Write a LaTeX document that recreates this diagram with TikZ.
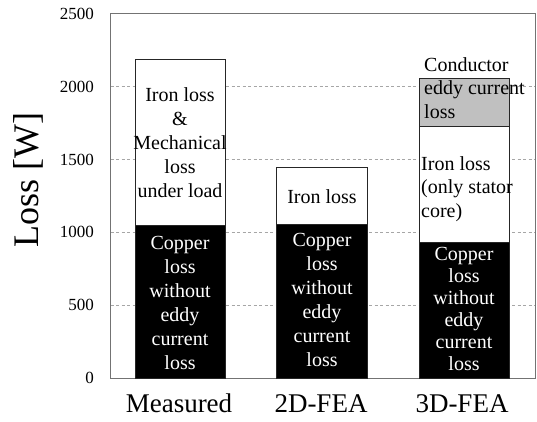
\documentclass[tikz,border=0pt]{standalone}
\usepackage{fontspec}
\setmainfont{Liberation Serif}
\definecolor{condgray}{HTML}{C0C0C0}
\begin{document}
\begin{tikzpicture}[x=1pt,y=-1pt,
  frame/.style={draw=black!55, line width=1pt},
  gridline/.style={draw=black!35, dash pattern=on 3pt off 2.5pt, line width=0.8pt},
  seg/.style={draw=black!85, line width=1pt},
  ticklbl/.style={anchor=east, font=\fontsize{17}{17}\selectfont, inner sep=0pt},
  catlbl/.style={anchor=base, font=\fontsize{27}{27}\selectfont, inner sep=0pt},
  lbl/.style={align=center, font=\fontsize{20}{24}\selectfont, inner sep=0pt},
  lbltight/.style={align=center, font=\fontsize{20}{22}\selectfont, inner sep=0pt},
  lblleft/.style={align=left, anchor=west, font=\fontsize{20}{23.5}\selectfont, inner sep=0pt},
]
% canvas
\useasboundingbox (0,0) rectangle (537,422);
\fill[white] (0,0) rectangle (537,422);

% horizontal grid at 500, 1000, 1500, 2000 W
\foreach \yy in {305.2,232.4,159.6,86.8}
  \draw[gridline] (110.5,\yy) -- (535,\yy);

% plot frame
\draw[frame] (110.5,14) rectangle (535,378);

% tick labels
\node[ticklbl] (t0)    at (94,378)   {0};
\node[ticklbl] (t500)  at (94,305.2) {500};
\node[ticklbl] (t1000) at (94,232.4) {1000};
\node[ticklbl] (t1500) at (94,159.6) {1500};
\node[ticklbl] (t2000) at (94,86.8)  {2000};
\node[ticklbl] (t2500) at (94,14)    {2500};

% axis title
\node[rotate=90, font=\fontsize{36}{36}\selectfont, inner sep=0pt] (ytitle) at (28,180) {Loss [W]};

% Measured bar
\filldraw[seg, fill=white] (135,59.3) rectangle (225.7,225.3);
\filldraw[seg, fill=black] (135,225.3) rectangle (225.7,378);
\node[lbl] (m-iron) at (180,143) {Iron loss\\\&\\Mechanical\\loss\\under load};
\node[lbl, text=white] (m-cu) at (180,303) {Copper\\loss\\without\\eddy\\current\\loss};

% 2D-FEA bar
\filldraw[seg, fill=white] (276.7,167.3) rectangle (367.3,224);
\filldraw[seg, fill=black] (276.7,224) rectangle (367.3,378);
\node[lbl] (f2-iron) at (322,197) {Iron loss};
\node[lbl, text=white] (f2-cu) at (322,300) {Copper\\loss\\without\\eddy\\current\\loss};

% 3D-FEA bar
\filldraw[seg, fill=condgray] (419.3,79) rectangle (509,126.7);
\filldraw[seg, fill=white] (419.3,126.7) rectangle (509,242.7);
\filldraw[seg, fill=black] (419.3,242.7) rectangle (509,378);
\node[lblleft] (f3-cond) at (424,88) {Conductor\\eddy current\\loss};
\node[lblleft] (f3-iron) at (421,189) {Iron loss\\(only stator\\core)};
\node[lbltight, text=white] (f3-cu) at (464,309) {Copper\\loss\\without\\eddy\\current\\loss};

% category labels
\node[catlbl] (c-meas) at (179,412) {Measured};
\node[catlbl] (c-2d)   at (321,412) {2D-FEA};
\node[catlbl] (c-3d)   at (462,412) {3D-FEA};
\end{tikzpicture}
\end{document}
